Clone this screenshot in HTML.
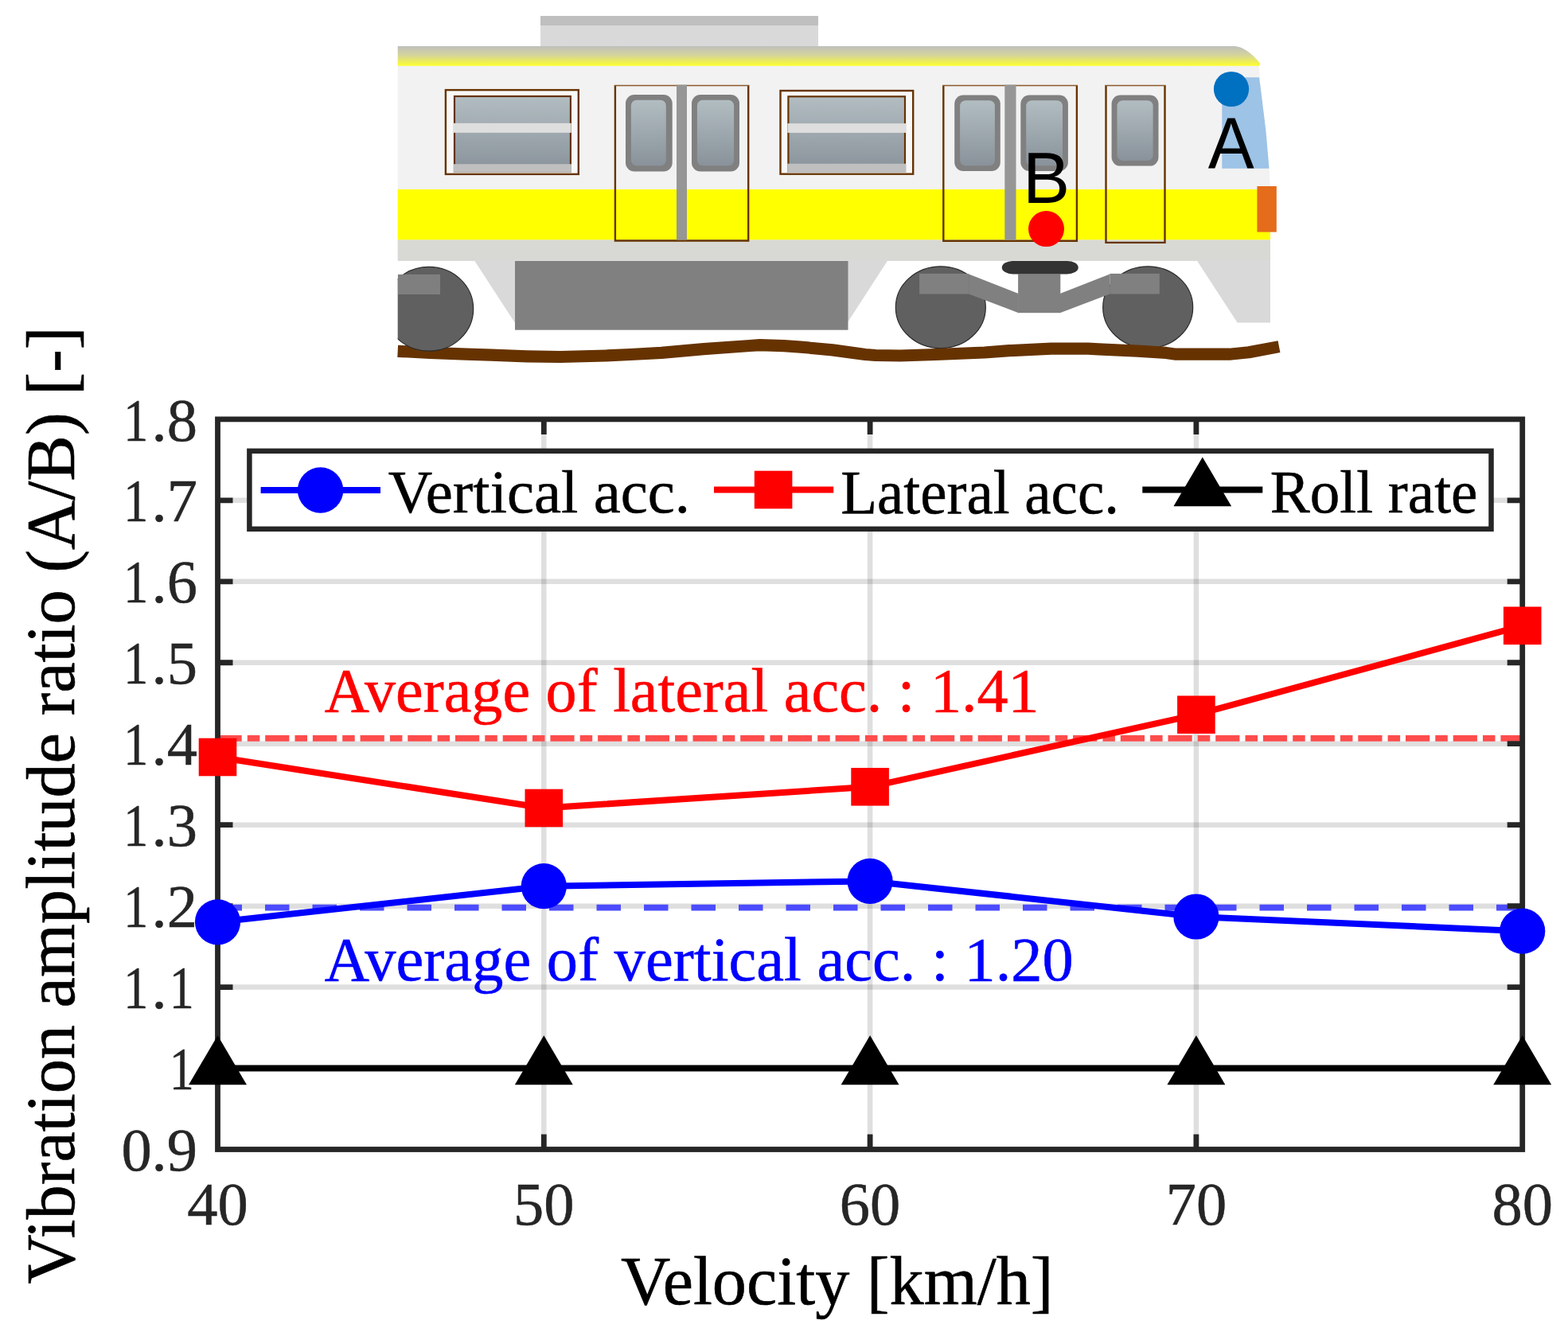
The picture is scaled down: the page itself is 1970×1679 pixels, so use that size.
<!DOCTYPE html>
<html><head><meta charset="utf-8"><title>Vibration amplitude ratio</title>
<style>html,body{margin:0;padding:0;background:#fff;}svg{display:block;}</style></head>
<body><svg width="1970" height="1679" viewBox="0 0 1970 1679">
<rect width="1970" height="1679" fill="#fff"/>
<defs>
<linearGradient id="gTop" x1="0" y1="0" x2="0" y2="1"><stop offset="0" stop-color="#bfbfbc"/><stop offset="0.45" stop-color="#d4d49c"/><stop offset="1" stop-color="#ffff2a"/></linearGradient>
<linearGradient id="gGlass" x1="0" y1="0" x2="0" y2="1"><stop offset="0" stop-color="#b2bdc2"/><stop offset="1" stop-color="#89929a"/></linearGradient>
<clipPath id="cBody"><rect x="499.7" y="0" width="1200" height="500"/></clipPath>
</defs>
<g id="train">
<rect x="679" y="20" width="349" height="38.5" fill="#d9d9d9"/>
<rect x="679" y="20" width="349" height="12" fill="#bfbfbf"/>
<path d="M499.7,58.1H1551.8C1562,59 1574,68 1583.6,80.4L1581.6,83H499.7Z" fill="url(#gTop)"/>
<path d="M499.7,82.8H1581.7L1584.5,120L1590,170L1594.6,212L1596,238V301.6H499.7Z" fill="#f2f2f2"/>
<rect x="499.7" y="238" width="1096.3" height="63.6" fill="#ffff00"/>
<rect x="499.7" y="301.5" width="1096.3" height="26.4" fill="#d8d9d4"/>
<polygon points="596.2,327.8 1115,327.8 1065,405 646.5,405" fill="#d9d9d9"/>
<polygon points="1504,327.8 1596,327.8 1596,405.4 1554.6,405.4" fill="#d9d9d9"/>
<rect x="647" y="328" width="418.5" height="86.7" fill="#808080"/>
<!-- windshield -->
<path d="M1535.3,97.2H1582L1585,120L1590.5,165L1594.5,211.7H1535.3Z" fill="#9dc3e6"/>
<!-- big windows -->
<rect x="559.9" y="113.1" width="166.9" height="105.8" fill="#f8f8f8" stroke="#663300" stroke-width="2.4"/>
<rect x="571" y="121" width="145.9" height="94.5" fill="url(#gGlass)" stroke="#663300" stroke-width="2.2"/>
<rect x="570" y="154.8" width="147.7" height="12" fill="#dedede"/>
<rect x="569.8" y="206.2" width="148.1" height="10.5" fill="#bfbfbf"/>
<rect x="980.5" y="114" width="166.7" height="104.7" fill="#f8f8f8" stroke="#663300" stroke-width="2.4"/>
<rect x="990.4" y="121.3" width="146.6" height="94.2" fill="url(#gGlass)" stroke="#663300" stroke-width="2.2"/>
<rect x="989.4" y="155.1" width="148.6" height="11.8" fill="#dedede"/>
<rect x="989.2" y="205.7" width="149" height="11.6" fill="#bfbfbf"/>
<!-- doors -->
<path d="M772.9,107.5V302.5H940.2V107.5" fill="none" stroke="#663300" stroke-width="2.4"/><path d="M771.6999999999999,107.5H941.4000000000001" stroke="#8a5a2a" stroke-width="1.7"/>
<path d="M1185.3,107.5V302.7H1352.9V107.5" fill="none" stroke="#663300" stroke-width="2.4"/><path d="M1184.1,107.5H1354.1000000000001" stroke="#8a5a2a" stroke-width="1.7"/>
<path d="M1389.5,107.5V304.9H1463.5V107.5" fill="none" stroke="#663300" stroke-width="2.4"/><path d="M1388.3,107.5H1464.7" stroke="#8a5a2a" stroke-width="1.7"/>
<rect x="850" y="106.6" width="13" height="195" fill="#969696"/>
<rect x="1262.3" y="106.6" width="14.2" height="195" fill="#969696"/>
<g fill="#808080">
<rect x="786" y="119" width="58.7" height="96.4" rx="11"/>
<rect x="869" y="119" width="60" height="96.4" rx="11"/>
<rect x="1199.2" y="119.5" width="57.6" height="95.4" rx="11"/>
<rect x="1282.3" y="119.5" width="59.6" height="95.4" rx="11"/>
<rect x="1396.6" y="119.5" width="58.9" height="89.1" rx="11"/>
</g>
<g fill="url(#gGlass)">
<rect x="792.9" y="125.7" width="43.9" height="82.6" rx="7"/>
<rect x="875.9" y="125.7" width="46.2" height="82.6" rx="7"/>
<rect x="1206.1" y="126.2" width="43.8" height="82" rx="7"/>
<rect x="1289.2" y="126.2" width="45.8" height="82" rx="7"/>
<rect x="1403.5" y="126.2" width="45.1" height="75.7" rx="7"/>
</g>
<rect x="1579.4" y="234" width="24.4" height="57.6" fill="#e46c1b"/>
<circle cx="1547" cy="112" r="22.1" fill="#0070c0"/>
<circle cx="1314.5" cy="287.6" r="22.5" fill="#ff0000"/>
<!-- bogie -->
<g fill="#606060" stroke="#2a2a2a" stroke-width="1.2">
<ellipse cx="1181.8" cy="386.2" rx="56.5" ry="51.4"/>
<ellipse cx="1442.2" cy="386.2" rx="56.5" ry="51.4"/>
</g>
<g fill="#808080">
<rect x="1155.1" y="343.9" width="62.1" height="25.6"/>
<rect x="1394.3" y="343.9" width="62.5" height="25.6"/>
<polygon points="1217.2,344.5 1279.6,368.9 1279.6,393.2 1217.2,369.5"/>
<polygon points="1394.3,344.5 1331.8,368.9 1331.8,393.2 1394.3,369.5"/>
<rect x="1279.1" y="344.5" width="53.2" height="48.7"/>
</g>
<rect x="1258.8" y="327.9" width="95.9" height="16.6" rx="14" ry="8.3" fill="#333333"/>
<polyline points="499.7,441.3 540,443.3 586,445.1 617,446.2 662,447.8 704,448.5 761,447.0 792,445.5 831,443.4 884,438.6 942,434.5 954.5,433.6 985,434.6 1006,436.1 1046,439.9 1087,445.5 1100,446.5 1131,447.0 1176,445.5 1237,443.0 1268,440.7 1321,438.2 1367,438.2 1380,438.9 1429,441.1 1465,443.4 1477.5,445.2 1544.5,445.2 1569,442.8 1607,435.6" fill="none" stroke="#663300" stroke-width="15.2" stroke-linejoin="round"/>
<g clip-path="url(#cBody)">
<ellipse cx="538.9" cy="388.25" rx="55.8" ry="52.85" fill="#606060" stroke="#2a2a2a" stroke-width="1.2"/>
<rect x="499.7" y="344.9" width="53.3" height="25.1" fill="#7f7f7f"/>
</g>
</g>

<g stroke="#262626" stroke-opacity="0.15" stroke-width="6.5"><line x1="273.5" y1="628.86" x2="1912.7" y2="628.86"/><line x1="273.5" y1="730.81" x2="1912.7" y2="730.81"/><line x1="273.5" y1="832.77" x2="1912.7" y2="832.77"/><line x1="273.5" y1="934.72" x2="1912.7" y2="934.72"/><line x1="273.5" y1="1036.68" x2="1912.7" y2="1036.68"/><line x1="273.5" y1="1138.63" x2="1912.7" y2="1138.63"/><line x1="273.5" y1="1240.59" x2="1912.7" y2="1240.59"/><line x1="273.5" y1="1342.54" x2="1912.7" y2="1342.54"/><line x1="683.30" y1="526.9" x2="683.30" y2="1444.5"/><line x1="1093.10" y1="526.9" x2="1093.10" y2="1444.5"/><line x1="1502.90" y1="526.9" x2="1502.90" y2="1444.5"/></g>
<line x1="273.5" y1="927.9" x2="1912.7" y2="927.9" stroke="#ff4c4c" stroke-width="7.7" stroke-dasharray="30.2 7.1 15.5 6.9"/>
<line x1="273.5" y1="1140.7" x2="1912.7" y2="1140.7" stroke="#4c4cff" stroke-width="7.7" stroke-dasharray="30.5 29"/>
<path d="M273.5,628.86h19M1912.7,628.86h-19M273.5,730.81h19M1912.7,730.81h-19M273.5,832.77h19M1912.7,832.77h-19M273.5,934.72h19M1912.7,934.72h-19M273.5,1036.68h19M1912.7,1036.68h-19M273.5,1138.63h19M1912.7,1138.63h-19M273.5,1240.59h19M1912.7,1240.59h-19M273.5,1342.54h19M1912.7,1342.54h-19M683.30,1444.5v-19M683.30,526.9v19M1093.10,1444.5v-19M1093.10,526.9v19M1502.90,1444.5v-19M1502.90,526.9v19" stroke="#262626" stroke-width="6.8" fill="none"/>
<rect x="273.5" y="526.9" width="1639.20" height="917.60" fill="none" stroke="#262626" stroke-width="6.8"/>
<polyline points="273.50,951.50 683.30,1015.50 1093.10,988.80 1502.90,898.20 1912.70,786.30" fill="none" stroke="#ff0000" stroke-width="8" stroke-linejoin="round"/>
<polyline points="273.50,1158.80 683.30,1113.70 1093.10,1107.40 1502.90,1152.00 1912.70,1170.20" fill="none" stroke="#0000ff" stroke-width="8" stroke-linejoin="round"/>
<polyline points="273.50,1342.54 683.30,1342.54 1093.10,1342.54 1502.90,1342.54 1912.70,1342.54" fill="none" stroke="#000" stroke-width="8"/>
<rect x="249.70" y="927.70" width="47.6" height="47.6" fill="#ff0000"/>
<rect x="659.50" y="991.70" width="47.6" height="47.6" fill="#ff0000"/>
<rect x="1069.30" y="965.00" width="47.6" height="47.6" fill="#ff0000"/>
<rect x="1479.10" y="874.40" width="47.6" height="47.6" fill="#ff0000"/>
<rect x="1888.90" y="762.50" width="47.6" height="47.6" fill="#ff0000"/>
<circle cx="273.50" cy="1158.80" r="28.6" fill="#0000ff"/>
<circle cx="683.30" cy="1113.70" r="28.6" fill="#0000ff"/>
<circle cx="1093.10" cy="1107.40" r="28.6" fill="#0000ff"/>
<circle cx="1502.90" cy="1152.00" r="28.6" fill="#0000ff"/>
<circle cx="1912.70" cy="1170.20" r="28.6" fill="#0000ff"/>
<polygon points="273.50,1301.34 309.96,1363.14 237.04,1363.14" fill="#000"/>
<polygon points="683.30,1301.34 719.76,1363.14 646.84,1363.14" fill="#000"/>
<polygon points="1093.10,1301.34 1129.56,1363.14 1056.64,1363.14" fill="#000"/>
<polygon points="1502.90,1301.34 1539.36,1363.14 1466.44,1363.14" fill="#000"/>
<polygon points="1912.70,1301.34 1949.16,1363.14 1876.24,1363.14" fill="#000"/>
<g font-family="'Liberation Serif', 'Times New Roman', serif" font-size="76.5" fill="#262626" stroke="#262626" stroke-width="0.5"><text transform="translate(155.28,553.50) scale(0.811,1)">1</text><text x="190.62" y="553.50">.</text><text x="209.75" y="553.50">8</text><text transform="translate(155.28,655.46) scale(0.811,1)">1</text><text x="190.62" y="655.46">.</text><text x="209.75" y="655.46">7</text><text transform="translate(155.28,757.41) scale(0.811,1)">1</text><text x="190.62" y="757.41">.</text><text x="209.75" y="757.41">6</text><text transform="translate(155.28,859.37) scale(0.811,1)">1</text><text x="190.62" y="859.37">.</text><text x="209.75" y="859.37">5</text><text transform="translate(155.28,961.32) scale(0.811,1)">1</text><text x="190.62" y="961.32">.</text><text x="209.75" y="961.32">4</text><text transform="translate(155.28,1063.28) scale(0.811,1)">1</text><text x="190.62" y="1063.28">.</text><text x="209.75" y="1063.28">3</text><text transform="translate(155.28,1165.23) scale(0.811,1)">1</text><text x="190.62" y="1165.23">.</text><text x="209.75" y="1165.23">2</text><text transform="translate(155.28,1267.19) scale(0.811,1)">1</text><text x="190.62" y="1267.19">.</text><text transform="translate(212.66,1267.19) scale(0.811,1)">1</text><text transform="translate(212.66,1369.14) scale(0.811,1)">1</text><text x="152.38" y="1471.10">0</text><text x="190.62" y="1471.10">.</text><text x="209.75" y="1471.10">9</text><text x="235.25" y="1538.60">4</text><text x="273.50" y="1538.60">0</text><text x="645.05" y="1538.60">5</text><text x="683.30" y="1538.60">0</text><text x="1054.85" y="1538.60">6</text><text x="1093.10" y="1538.60">0</text><text x="1464.65" y="1538.60">7</text><text x="1502.90" y="1538.60">0</text><text x="1874.45" y="1538.60">8</text><text x="1912.70" y="1538.60">0</text></g>
<text transform="translate(407.42,893.95) scale(0.7809,0.7739)" font-family="'Liberation Serif', 'Times New Roman', serif" font-size="100" fill="#ff0000" stroke="#ff0000" stroke-width="0.7">Average of lateral acc. : 1.41</text>
<text transform="translate(407.42,1232.03) scale(0.7843,0.7793)" font-family="'Liberation Serif', 'Times New Roman', serif" font-size="100" fill="#0000ff" stroke="#0000ff" stroke-width="0.7">Average of vertical acc. : 1.20</text>
<text transform="translate(779.94,1638.61) scale(0.8624,0.8567)" font-family="'Liberation Serif', 'Times New Roman', serif" font-size="100" fill="#000" stroke="#000" stroke-width="0.7">Velocity [km/h]</text>
<text transform="translate(92.75,1613.66) rotate(-90) scale(0.8634,0.8689)" font-family="'Liberation Serif', 'Times New Roman', serif" font-size="100" fill="#000" stroke="#000" stroke-width="0.7">Vibration amplitude ratio (A/B) [-]</text>
<rect x="313.4" y="566.8" width="1560.1" height="98" fill="#fff" stroke="#262626" stroke-width="6.5"/>
<line x1="327.6" y1="616" x2="478" y2="616" stroke="#0000ff" stroke-width="8"/>
<circle cx="402.6" cy="616" r="28.7" fill="#0000ff"/>
<line x1="897" y1="615.5" x2="1047.2" y2="615.5" stroke="#ff0000" stroke-width="8"/>
<rect x="947.80" y="591.70" width="47.6" height="47.6" fill="#ff0000"/>
<line x1="1435.3" y1="615.6" x2="1586.3" y2="615.6" stroke="#000" stroke-width="8"/>
<polygon points="1510.80,574.60 1547.17,636.25 1474.43,636.25" fill="#000"/>
<text transform="translate(487.73,643.87) scale(0.7679,0.7634)" font-family="'Liberation Serif', 'Times New Roman', serif" font-size="100" fill="#000" stroke="#000" stroke-width="0.7">Vertical acc.</text>
<text transform="translate(1056.25,644.63) scale(0.7501,0.7743)" font-family="'Liberation Serif', 'Times New Roman', serif" font-size="100" fill="#000" stroke="#000" stroke-width="0.7">Lateral acc.</text>
<text transform="translate(1595.75,643.93) scale(0.7510,0.7671)" font-family="'Liberation Serif', 'Times New Roman', serif" font-size="100" fill="#000" stroke="#000" stroke-width="0.7">Roll rate</text>
<text transform="translate(1517.80,210.80) scale(0.8682,0.9116)" font-family="'Liberation Sans', Arial, sans-serif" font-size="100" fill="#000" stroke="#000" stroke-width="0">A</text>
<text transform="translate(1285.01,254.90) scale(0.8868,0.9101)" font-family="'Liberation Sans', Arial, sans-serif" font-size="100" fill="#000" stroke="#000" stroke-width="0">B</text>
</svg></body></html>
